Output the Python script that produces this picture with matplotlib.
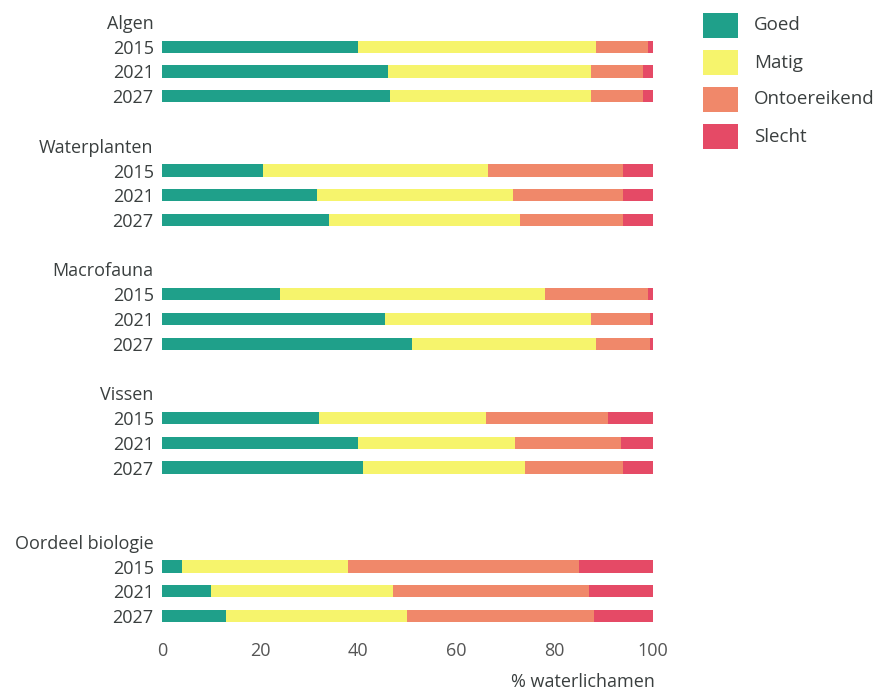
import matplotlib
matplotlib.use("Agg")
import matplotlib.pyplot as plt
from matplotlib.patches import Rectangle

# Groups and years
groups = ["Algen", "Waterplanten", "Macrofauna", "Vissen", "Oordeel biologie"]
years = ["2015", "2021", "2027"]
categories = ["Goed", "Matig", "Ontoereikend", "Slecht"]

# Share of water bodies (%) per group, per year (2015, 2021, 2027)
goed = {
    "Algen": [40, 46, 46.5],
    "Waterplanten": [20.5, 31.5, 34],
    "Macrofauna": [24, 45.5, 51],
    "Vissen": [32, 40, 41],
    "Oordeel biologie": [4, 10, 13],
}
matig = {
    "Algen": [48.5, 41.5, 41],
    "Waterplanten": [46, 40, 39],
    "Macrofauna": [54, 42, 37.5],
    "Vissen": [34, 32, 33],
    "Oordeel biologie": [34, 37, 37],
}
ontoereikend = {
    "Algen": [10.5, 10.5, 10.5],
    "Waterplanten": [27.5, 22.5, 21],
    "Macrofauna": [21, 12, 11],
    "Vissen": [25, 21.5, 20],
    "Oordeel biologie": [47, 40, 38],
}
slecht = {
    "Algen": [1, 2, 2],
    "Waterplanten": [6, 6, 6],
    "Macrofauna": [1, 0.5, 0.5],
    "Vissen": [9, 6.5, 6],
    "Oordeel biologie": [15, 13, 12],
}
x_ticks = [0, 20, 40, 60, 80, 100]

colors = ["#1fa08a", "#f6f46c", "#f0886a", "#e54a66"]
text_color = "#3a3f3f"

plt.rcParams["font.family"] = ["Open Sans", "DejaVu Sans"]

fig = plt.figure(figsize=(8.74, 6.93), dpi=100)
W, H = 874, 693
top_px, bot_px = 10, 630
ax = fig.add_axes([162 / W, 1 - bot_px / H, 490.5 / W, (bot_px - top_px) / H])

# Row layout: group title row followed by three year rows
row_h = 24.75
title_rows = [0, 5, 10, 15, 21]
series = [goed, matig, ontoereikend, slecht]

tick_pos, tick_lab = [], []
for g, t in zip(groups, title_rows):
    tick_pos.append(t)
    tick_lab.append(g)
    for i, yr in enumerate(years):
        y = t + 1 + i
        left = 0
        for s, c in zip(series, colors):
            v = s[g][i]
            ax.barh(y, v, left=left, height=0.5, color=c, edgecolor="none")
            left += v
        tick_pos.append(y)
        tick_lab.append(yr)

ax.set_xlim(0, 100)
ax.set_ylim((bot_px - 22) / row_h, (top_px - 22) / row_h)

ax.set_yticks(tick_pos)
ax.set_yticklabels(tick_lab, fontsize=13, color=text_color)
ax.tick_params(axis="y", length=0, pad=6)
ax.set_xticks(x_ticks)
ax.set_xticklabels([str(v) for v in x_ticks], fontsize=13, color="#555555")
ax.tick_params(axis="x", length=0, pad=9)

for sp in ax.spines.values():
    sp.set_visible(False)

fig.text(655 / W, 1 - 682 / H, "% waterlichamen",
         ha="right", va="center", fontsize=13, color=text_color)

# Legend: colour swatches with labels, top right
for k, (lab, c) in enumerate(zip(categories, colors)):
    y_top = 13 + 37 * k
    fig.add_artist(Rectangle((703 / W, 1 - (y_top + 25) / H), 35 / W, 25 / H,
                             transform=fig.transFigure, facecolor=c,
                             edgecolor="none"))
    fig.text(754 / W, 1 - (y_top + 12.5) / H, lab, ha="left", va="center",
             fontsize=13.5, color=text_color)

fig.savefig("out.png", dpi=100, facecolor="white")
